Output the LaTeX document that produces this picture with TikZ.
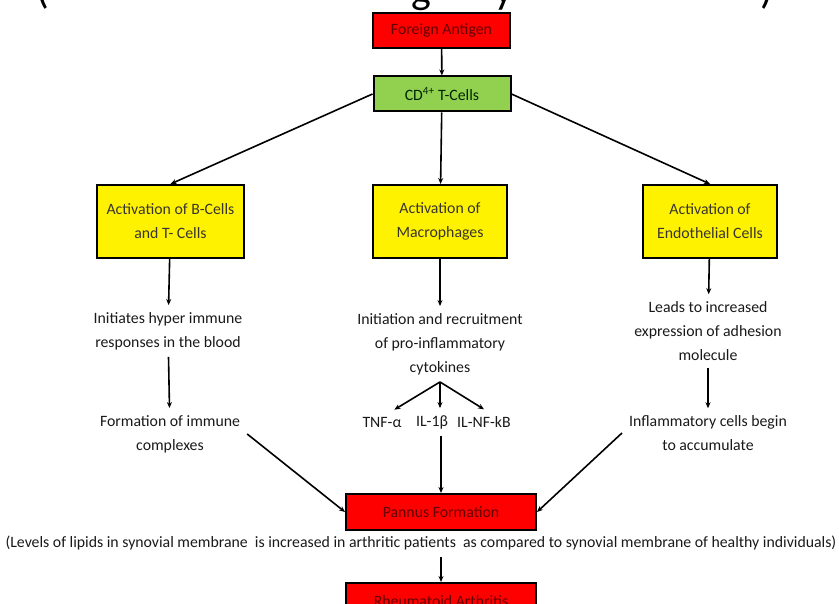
\documentclass[tikz,border=0pt]{standalone}
\usepackage{fontspec}
\setmainfont{Carlito}
\usetikzlibrary{arrows.meta}

\definecolor{cellgreen}{RGB}{146,208,80}
\definecolor{darkred}{RGB}{100,0,0}
\newcommand{\dgfont}{\fontsize{15.8}{24}\selectfont}

\tikzset{
    box/.style={draw=black, line width=2pt, align=center, font=\dgfont},
    redbox/.style={box, fill=red, text=darkred, minimum width=137pt, minimum height=35pt},
    greenbox/.style={box, fill=cellgreen, text=black!85!green, minimum width=137pt, minimum height=35pt},
    yellowbox/.style={box, fill=yellow, text=black!90!yellow, minimum width=134pt, minimum height=73pt},
    txt/.style={align=center, font=\dgfont, text=black!90, inner sep=7pt},
    toptxt/.style={anchor=base, font=\fontsize{42}{42}\selectfont},
    arr/.style={line width=1.6pt, -{Stealth[length=6pt,width=5pt]}}
}

\begin{document}
\begin{tikzpicture}[x=1pt, y=-1pt]
        \useasboundingbox (0,0) rectangle (839,604);
        \clip (0,0) rectangle (839,604);
        %\draw [help lines, step=50] (0,0) grid (839,604);

        % cut-off line at the top
        \node [toptxt] (topl) at (43,4) {(};
        \node [toptxt] (topg) at (421,4) {g};
        \node [toptxt] (topy) at (504,4) {y};
        \node [toptxt] (topr) at (767,4) {)};

        \node [redbox] (fa) at (441.5,30.5) {Foreign Antigen};
        \node [greenbox] (cd) at (442,94) {CD\textsuperscript{4+} T-Cells};

        \node [yellowbox, minimum width=147pt] (bt) at (170.5,221.5) {Activation of B-Cells\\and T- Cells};
        \node [yellowbox] (mac) at (440,221.5) {Activation of\\Macrophages};
        \node [yellowbox] (endo) at (710,221.5) {Activation of\\Endothelial Cells};

        \node [txt] (hyp) at (168,331) {Initiates hyper immune\\responses in the blood};
        \node [txt] (imm) at (170,434) {Formation of immune\\complexes};

        \node [txt] (init) at (440,344) {Initiation and recruitment\\of pro-inflammatory\\cytokines};
        \node [txt] (tnf) at (382,422) {TNF-α};
        \node [txt] (il1) at (432,422) {IL-1β};
        \node [txt] (nfkb) at (484,422) {IL-NF-kB};

        \node [txt] (lead) at (708,331) {Leads to increased\\expression of adhesion\\molecule};
        \node [txt] (infl) at (708,433) {Inflammatory cells begin\\to accumulate};

        \node [redbox, minimum width=190pt, minimum height=36pt] (pan) at (441,512) {Pannus Formation};
        \node [txt] (cap) at (421,543) {(Levels of lipids in synovial membrane~ is increased in arthritic patients~ as compared to synovial membrane of healthy individuals)};
        \node [redbox, minimum width=190pt, minimum height=36pt] (ra) at (441,601) {Rheumatoid Arthritis};

        \draw [arr] (fa) -- (cd);
        \draw [arr] (cd.west) -- (bt.north);
        \draw [arr] (cd) -- (mac);
        \draw [arr] (cd.east) -- (endo.north);

        \draw [arr] (bt) -- (hyp);
        \draw [arr] (hyp) -- (imm);

        \draw [arr] (mac) -- (init);
        \draw [arr] (init.south) -- (tnf.45);
        \draw [arr] (init.south) -- (init.south |- il1.north);
        \draw [arr] (init.south) -- (nfkb.north);
        \draw [arr] (pan.north |- il1.south) -- (pan.north);

        \draw [arr] (endo) -- (lead);
        \draw [arr] (lead) -- (infl);

        \draw [arr] (imm.east) -- (pan.west);
        \draw [arr] (infl.west) -- (pan.east);
        \draw [arr] (cap.south -| pan.south) -- (ra.north);

    \end{tikzpicture}
\end{document}
